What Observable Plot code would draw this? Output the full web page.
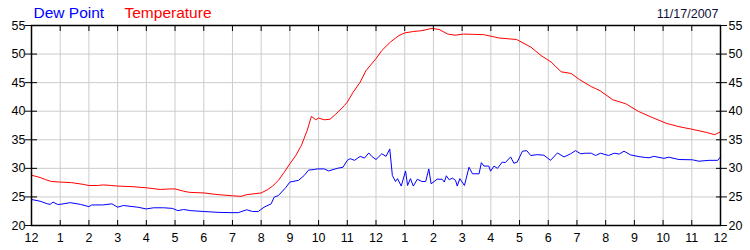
<!DOCTYPE html>
<html>
<head>
<meta charset="utf-8">
<script src="https://cdn.jsdelivr.net/npm/d3@7"></script>
<script src="https://cdn.jsdelivr.net/npm/@observablehq/plot@0.6"></script>
<style>
  html, body { margin: 0; padding: 0; background: #fff; }
</style>
</head>
<body>
<div id="chart"></div>
<script>
const tempHours = [0,0.3,0.5,0.7,1.0,1.4,1.8,2.0,2.3,2.5,2.8,3.0,3.5,4.0,4.5,4.8,5.0,5.3,5.5,6.0,6.5,7.0,7.3,7.5,8.0,8.2,8.4,8.6,8.8,9.0,9.2,9.4,9.6,9.75,9.9,10.0,10.2,10.4,10.6,10.9,11.0,11.2,11.45,11.65,11.9,12.0,12.2,12.5,12.8,13.0,13.3,13.6,13.95,14.2,14.5,14.75,15.05,15.4,15.75,16.3,16.9,17.4,17.75,18.1,18.45,18.8,19.1,19.5,19.8,20.25,20.7,21.15,21.6,22.1,22.55,23.0,23.5,23.8,24.0];
const tempValues = [28.8,28.4,28.0,27.7,27.6,27.5,27.2,27.0,27.0,27.1,27.0,26.9,26.8,26.6,26.3,26.4,26.4,26.0,25.8,25.7,25.4,25.2,25.1,25.4,25.7,26.2,26.9,27.9,29.3,30.8,32.2,34.0,36.6,39.1,38.5,38.8,38.5,38.6,39.5,41.0,41.6,43.3,45.1,47.1,48.6,49.2,50.6,52.1,53.25,53.7,53.95,54.1,54.5,54.3,53.5,53.3,53.5,53.45,53.4,52.8,52.55,51.2,49.75,48.6,46.9,46.6,45.5,44.3,43.6,42.0,41.3,39.95,38.95,37.9,37.3,36.85,36.3,35.9,36.4];

const dewHours = [0,0.3,0.55,0.65,0.75,0.9,1.0,1.35,1.7,2.0,2.1,2.5,2.8,3.0,3.2,3.7,4.0,4.25,4.6,4.9,5.1,5.3,5.55,6.0,6.5,6.95,7.2,7.5,7.7,7.9,8.1,8.35,8.45,8.6,8.85,9.0,9.3,9.5,9.65,9.85,9.95,10.2,10.35,10.65,10.85,11.0,11.1,11.25,11.45,11.6,11.75,11.85,12.0,12.2,12.35,12.48,12.57,12.68,12.75,12.88,13.03,13.1,13.2,13.3,13.44,13.6,13.73,13.84,13.92,14.13,14.3,14.38,14.45,14.55,14.66,14.77,14.83,14.92,15.08,15.24,15.36,15.59,15.67,15.76,15.93,15.99,16.11,16.23,16.4,16.5,16.69,16.8,16.92,17.1,17.25,17.39,17.62,17.85,18.08,18.32,18.55,18.78,18.95,19.13,19.3,19.5,19.65,19.82,20.1,20.3,20.47,20.64,20.87,21.16,21.4,21.51,21.68,22.03,22.2,22.55,23.02,23.25,23.6,23.9,24.0];
const dewValues = [24.55,24.25,23.8,23.7,24.1,23.7,23.7,24.0,23.7,23.3,23.6,23.6,23.8,23.2,23.5,23.2,22.9,23.1,23.1,23.0,22.6,22.8,22.6,22.45,22.3,22.25,22.25,22.75,22.45,22.45,23.2,23.8,24.95,25.25,26.6,27.6,27.9,28.75,29.7,29.8,29.9,29.9,29.55,30.0,30.2,31.4,31.7,31.4,32.1,31.8,32.7,32.1,31.55,32.55,32.1,33.4,28.75,27.7,28.2,26.9,29.55,27.0,28.2,26.9,28.1,27.7,27.7,29.9,27.3,28.1,28.1,27.6,28.7,28.0,28.3,27.9,26.9,28.2,27.0,30.2,29.05,29.05,31.0,30.4,30.4,29.5,30.4,30.0,31.1,31.0,32.0,30.9,31.1,33.0,33.1,32.25,32.4,32.3,31.4,32.7,32.0,32.55,33.1,32.55,32.65,32.65,32.25,32.65,32.25,32.65,32.5,33.0,32.35,32.05,31.9,31.85,32.1,31.75,31.95,31.55,31.5,31.25,31.4,31.4,32.0];

const xTicks = d3.range(0, 25);
const xTickLabels = ["12","1","2","3","4","5","6","7","8","9","10","11","12","1","2","3","4","5","6","7","8","9","10","11","12"];
const yTicks = [20,25,30,35,40,45,50,55];
const titleDew = "Dew Point";
const titleTemp = "Temperature";
const dateLabel = "11/17/2007";

const temp = tempHours.map((h, i) => ({h, v: tempValues[i]}));
const dew = dewHours.map((h, i) => ({h, v: dewValues[i]}));

const chart = Plot.plot({
  width: 750,
  height: 250,
  marginLeft: 31,
  marginRight: 30,
  marginTop: 25,
  marginBottom: 25,
  style: {fontFamily: "'Liberation Sans', Arial, sans-serif", fontSize: "12.5px", background: "#fff", color: "#000"},
  x: {domain: [0, 24]},
  y: {domain: [20, 55]},
  marks: [
    Plot.gridX(xTicks, {stroke: "#cccccc", strokeOpacity: 1}),
    Plot.gridY(yTicks, {stroke: "#cccccc", strokeOpacity: 1}),
    Plot.line(dew, {x: "h", y: "v", stroke: "#0000ff", strokeWidth: 1}),
    Plot.line(temp, {x: "h", y: "v", stroke: "#ff0000", strokeWidth: 1}),
    Plot.frame({stroke: "#000", strokeWidth: 1.5}),
    // inward x ticks (bottom and top)
    Plot.axisX(xTicks, {anchor: "bottom", tickSize: 5, dy: -5, fill: "none", label: null}),
    Plot.axisX(xTicks, {anchor: "top", tickSize: 5, dy: 5, fill: "none", label: null}),
    // x tick labels
    Plot.axisX(xTicks, {anchor: "bottom", tickSize: 0, tickPadding: 8, tickFormat: (d) => xTickLabels[d], label: null}),
    // y ticks crossing the axis
    Plot.axisY(yTicks, {anchor: "left", tickSize: 12, dx: 6, fill: "none", label: null}),
    Plot.axisY(yTicks, {anchor: "right", tickSize: 11, dx: -5, fill: "none", label: null}),
    // y tick labels
    Plot.axisY(yTicks, {anchor: "left", tickSize: 0, tickPadding: 6, label: null}),
    Plot.axisY(yTicks, {anchor: "right", tickSize: 0, tickPadding: 8, label: null}),
    // titles
    Plot.text([titleDew], {text: d => d, frameAnchor: "top-left", dx: 2, dy: -8, textAnchor: "start", lineAnchor: "bottom", fill: "#0000ff", fontSize: 15.5}),
    Plot.text([titleTemp], {text: d => d, frameAnchor: "top-left", dx: 93, dy: -8, textAnchor: "start", lineAnchor: "bottom", fill: "#ff0000", fontSize: 15.5}),
    Plot.text([dateLabel], {text: d => d, frameAnchor: "top-right", dx: -2, dy: -8, textAnchor: "end", lineAnchor: "bottom", fill: "#10103a", fontSize: 12.5})
  ]
});
document.getElementById("chart").appendChild(chart);
</script>
</body>
</html>
